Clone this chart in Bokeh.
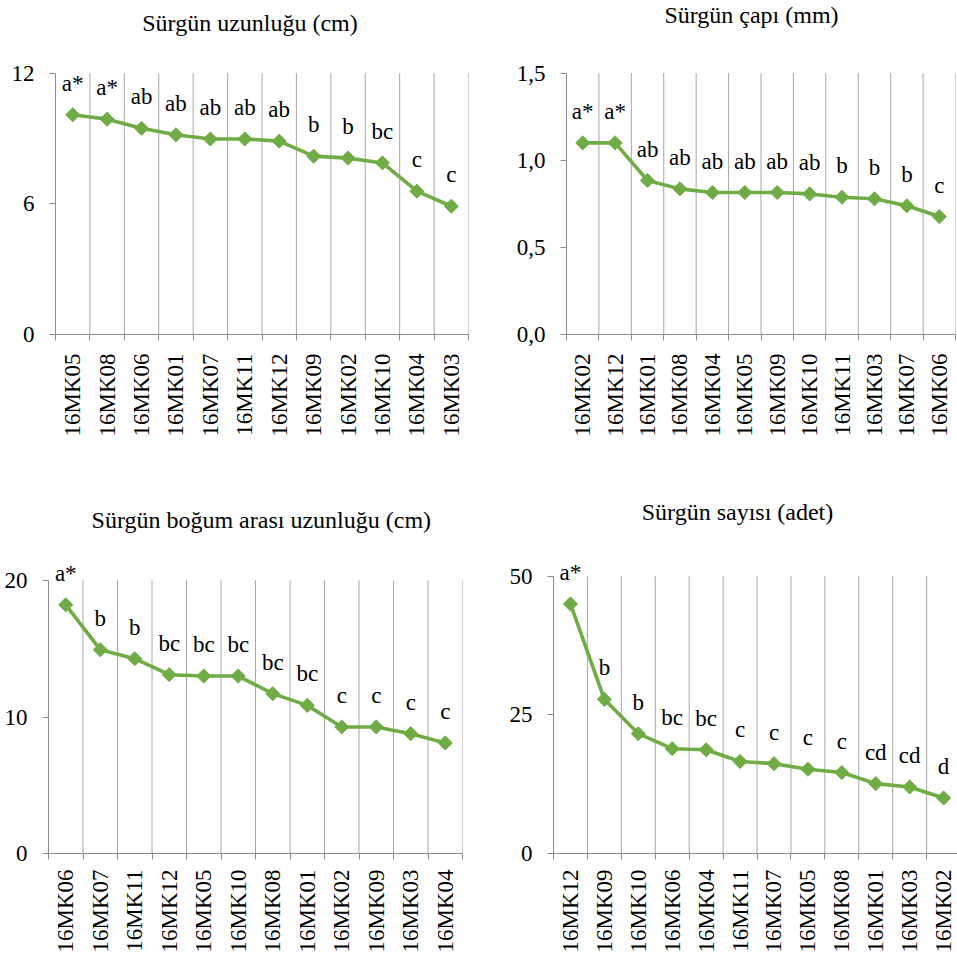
import numpy as np
from bokeh.plotting import figure
from bokeh.models import (Range1d, FixedTicker, LinearAxis, LabelSet, ColumnDataSource,
                          Label, CustomJSTickFormatter)
from bokeh.layouts import column, row
from bokeh.core.properties import value
from bokeh.embed import file_html
from bokeh.resources import INLINE

FONT = "Times"
GREEN = "#6FAC46"
GRID = "#A6A6A6"
AXIS = "#8C8C8C"

# ---- data ----
title1 = "Sürgün uzunluğu (cm)"
cats1 = ["16MK05", "16MK08", "16MK06", "16MK01", "16MK07", "16MK11",
         "16MK12", "16MK09", "16MK02", "16MK10", "16MK04", "16MK03"]
vals1 = [10.09, 9.89, 9.47, 9.17, 8.98, 8.98, 8.88, 8.19, 8.10, 7.88, 6.58, 5.89]
let1 = ["a*", "a*", "ab", "ab", "ab", "ab", "ab", "b", "b", "bc", "c", "c"]
yt1 = [0, 6, 12]

title2 = "Sürgün çapı (mm)"
cats2 = ["16MK02", "16MK12", "16MK01", "16MK08", "16MK04", "16MK05",
         "16MK09", "16MK10", "16MK11", "16MK03", "16MK07", "16MK06"]
vals2 = [1.10, 1.10, 0.884, 0.836, 0.815, 0.815, 0.815, 0.807, 0.788, 0.779, 0.739, 0.677]
let2 = ["a*", "a*", "ab", "ab", "ab", "ab", "ab", "ab", "b", "b", "b", "c"]
yt2 = [0, 0.5, 1.0, 1.5]

title3 = "Sürgün boğum arası uzunluğu (cm)"
cats3 = ["16MK06", "16MK07", "16MK11", "16MK12", "16MK05", "16MK10",
         "16MK08", "16MK01", "16MK02", "16MK09", "16MK03", "16MK04"]
vals3 = [18.22, 14.93, 14.27, 13.10, 13.0, 13.0, 11.71, 10.85, 9.27, 9.27, 8.78, 8.10]
let3 = ["a*", "b", "b", "bc", "bc", "bc", "bc", "bc", "c", "c", "c", "c"]
yt3 = [0, 10, 20]

title4 = "Sürgün sayısı (adet)"
cats4 = ["16MK12", "16MK09", "16MK10", "16MK06", "16MK04", "16MK11",
         "16MK07", "16MK05", "16MK08", "16MK01", "16MK03", "16MK02"]
vals4 = [45.0, 27.8, 21.6, 18.9, 18.7, 16.6, 16.2, 15.2, 14.6, 12.6, 12.0, 10.0]
let4 = ["a*", "b", "b", "bc", "bc", "c", "c", "c", "c", "cd", "cd", "d"]
yt4 = [0, 25, 50]


def panel(title, cats, vals, letters, yticks, W, H, bl, br, bb,
          top_px, xend, tx, ty, lab_standoff, comma=False):
    n = len(cats)
    ymax = yticks[-1]
    frame_h = H - bb
    yend = ymax * frame_h / (frame_h - top_px)
    p = figure(width=W, height=H,
               x_range=Range1d(0, xend), y_range=Range1d(0, yend),
               x_axis_type=None, y_axis_type=None,
               output_backend="svg", toolbar_location=None,
               min_border_left=bl, min_border_right=br,
               min_border_top=0, min_border_bottom=bb)
    p.outline_line_color = None
    p.xgrid.visible = False
    p.ygrid.visible = False

    centers = [i + 0.5 for i in range(n)]
    bounds = list(range(n + 1))

    # vertical category separators, from 0 up to the top tick
    p.segment(x0=bounds, y0=[0] * len(bounds), x1=bounds, y1=[ymax] * len(bounds),
              line_color=GRID, line_width=1)

    xa = LinearAxis(ticker=FixedTicker(ticks=centers, minor_ticks=bounds),
                    formatter=CustomJSTickFormatter(args=dict(labels=cats),
                                                    code="return labels[Math.floor(tick)]"))
    xa.axis_line_color = AXIS
    xa.major_tick_line_color = None
    xa.major_tick_in = 0
    xa.major_tick_out = 0
    xa.minor_tick_in = 0
    xa.minor_tick_out = 6
    xa.minor_tick_line_color = AXIS
    xa.major_label_orientation = np.pi / 2
    xa.major_label_standoff = lab_standoff
    xa.major_label_text_font = FONT
    xa.major_label_text_font_size = "23px"
    xa.major_label_text_color = "black"
    p.add_layout(xa, "below")

    ya = LinearAxis(ticker=FixedTicker(ticks=yticks), bounds=(0, ymax))
    if comma:
        ya.formatter = CustomJSTickFormatter(code="return tick.toFixed(1).replace('.', ',')")
    ya.axis_line_color = AXIS
    ya.major_tick_line_color = AXIS
    ya.major_tick_in = 0
    ya.major_tick_out = 6
    ya.minor_tick_line_color = None
    ya.major_label_standoff = 15
    ya.major_label_text_font = FONT
    ya.major_label_text_font_size = "23px"
    ya.major_label_text_color = "black"
    p.add_layout(ya, "left")

    src = ColumnDataSource(dict(x=centers, y=vals, lab=letters))
    p.line("x", "y", source=src, line_color=GREEN, line_width=3.6)
    p.scatter("x", "y", source=src, marker="square", angle=np.pi / 4, size=10,
              fill_color=GREEN, line_color=GREEN)
    p.add_layout(LabelSet(x="x", y="y", text="lab", source=src, y_offset=24,
                          text_align="center", text_baseline="alphabetic",
                          text_font=value(FONT), text_font_size=value("23px"),
                          text_color="black"))

    p.add_layout(Label(x=tx, y=ty, x_units="screen", y_units="screen", text=title,
                       text_align="center", text_baseline="alphabetic",
                       text_font=FONT, text_font_size="24px", text_color="black"))
    return p


p1 = panel(title1, cats1, vals1, let1, yt1, 480, 460, 55, 12, 126, 72.7, 12,
           194.5, 311.5, 13)
p2 = panel(title2, cats2, vals2, let2, yt2, 477, 460, 86, 2, 126, 72.7, 12,
           185, 320, 13, comma=True)
p3 = panel(title3, cats3, vals3, let3, yt3, 480, 495, 48, 18, 102, 120, 12,
           212.8, 334, 10)
p4 = panel(title4, cats4, vals4, let4, yt4, 477, 495, 73, 0, 102, 115.7, 11.91,
           184, 342, 10)

layout = column(row(p1, p2), row(p3, p4))

open("out.html", "w").write(file_html(layout, INLINE))
